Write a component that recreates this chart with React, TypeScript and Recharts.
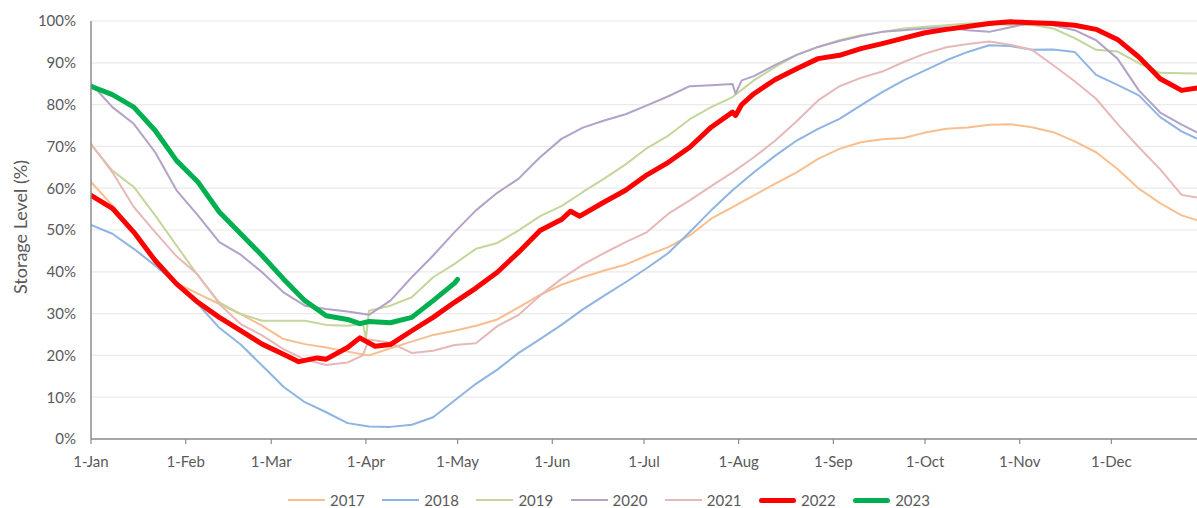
import React from 'react';
import { LineChart, Line, XAxis, YAxis, CartesianGrid } from 'recharts';

const MONTH_TICKS = [0, 31, 59, 90, 120, 151, 181, 212, 243, 273, 304, 334];
const MONTH_LABELS = ['1-Jan', '1-Feb', '1-Mar', '1-Apr', '1-May', '1-Jun', '1-Jul', '1-Aug', '1-Sep', '1-Oct', '1-Nov', '1-Dec'];
const Y_TICKS = [0, 10, 20, 30, 40, 50, 60, 70, 80, 90, 100];

// [day of year, storage %]
const S2017: [number, number][] = [
  [0, 61.5], [7, 55.9], [14, 49.5], [21, 43.1], [28, 37.3], [35, 34.8], [42, 32.3], [49, 29.9], [56, 27.1],
  [63, 23.9], [70, 22.7], [77, 21.9], [84, 20.9], [91, 20.0], [98, 21.7], [105, 23.3], [112, 24.9], [119, 25.9],
  [126, 27.1], [133, 28.6], [140, 31.5], [147, 34.5], [154, 36.9], [161, 38.7], [168, 40.3], [175, 41.7],
  [182, 43.9], [189, 45.9], [196, 48.7], [203, 52.7], [210, 55.5], [217, 58.3], [224, 61.1], [231, 63.8], [238, 67.0],
  [245, 69.4], [252, 71.0], [259, 71.7], [266, 72.0], [273, 73.3], [280, 74.2], [287, 74.5], [294, 75.2], [301, 75.3],
  [308, 74.6], [315, 73.4], [322, 71.2], [329, 68.6], [336, 64.6], [343, 59.9], [350, 56.4], [357, 53.5], [364, 51.9],
];
const S2018: [number, number][] = [
  [0, 51.2], [7, 49.1], [14, 45.5], [21, 41.5], [28, 37.1], [35, 32.3], [42, 26.6], [49, 22.6], [56, 17.6],
  [63, 12.5], [70, 8.8], [77, 6.4], [84, 3.8], [91, 3.0], [98, 2.9], [105, 3.4], [112, 5.2], [119, 9.2],
  [126, 13.2], [133, 16.6], [140, 20.6], [147, 23.9], [154, 27.3], [161, 31.0], [168, 34.3], [175, 37.5],
  [182, 40.9], [189, 44.5], [196, 49.5], [203, 54.7], [210, 59.5], [217, 63.8], [224, 67.8], [231, 71.4], [238, 74.2],
  [245, 76.6], [252, 79.8], [259, 83.0], [266, 85.8], [273, 88.2], [280, 90.6], [287, 92.6], [294, 94.2], [301, 94.0],
  [308, 93.1], [315, 93.2], [322, 92.6], [329, 87.1], [336, 84.7], [343, 82.2], [350, 77.0], [357, 73.6], [364, 71.2],
];
const S2019: [number, number][] = [
  [0, 70.4], [7, 64.2], [14, 60.3], [21, 53.5], [28, 46.3], [35, 39.1], [42, 32.7], [49, 29.9], [56, 28.3],
  [63, 28.3], [70, 28.3], [77, 27.3], [84, 27.1], [89, 27.5], [90, 24.0], [91, 30.7], [98, 31.9], [105, 33.9], [112, 38.7], [119, 41.9],
  [126, 45.5], [133, 46.9], [140, 49.9], [147, 53.3], [154, 55.7], [161, 59.1], [168, 62.3], [175, 65.7],
  [182, 69.6], [189, 72.6], [196, 76.5], [203, 79.4], [210, 81.8], [217, 85.8], [224, 89.0], [231, 91.9], [238, 93.8],
  [245, 95.4], [252, 96.6], [259, 97.4], [266, 98.2], [273, 98.6], [280, 99.0], [287, 99.4], [294, 99.6], [301, 99.0],
  [308, 99.1], [315, 98.2], [322, 95.9], [329, 93.1], [336, 92.7], [343, 89.9], [350, 87.6], [357, 87.5], [364, 87.4],
];
const S2020: [number, number][] = [
  [0, 85.0], [7, 79.4], [14, 75.4], [21, 68.6], [28, 59.5], [35, 53.5], [42, 47.1], [49, 44.1], [56, 39.9],
  [63, 35.1], [70, 31.9], [77, 31.1], [84, 30.5], [91, 29.7], [98, 33.1], [105, 38.7], [112, 43.9], [119, 49.5],
  [126, 54.7], [133, 58.9], [140, 62.3], [147, 67.4], [154, 71.8], [161, 74.5], [168, 76.2], [175, 77.7],
  [182, 79.8], [189, 82.0], [196, 84.4], [203, 84.6], [210, 84.9], [211, 82.6], [213, 85.8], [217, 86.8], [224, 89.5], [231, 91.9], [238, 93.8],
  [245, 95.2], [252, 96.4], [259, 97.4], [266, 97.8], [273, 98.2], [280, 98.5], [287, 97.8], [294, 97.4], [301, 98.5],
  [308, 99.6], [315, 99.0], [322, 97.8], [329, 95.4], [336, 91.0], [343, 83.4], [350, 78.1], [357, 75.2], [364, 72.6],
];
const S2021: [number, number][] = [
  [0, 70.6], [7, 63.8], [14, 55.5], [21, 49.5], [28, 43.7], [35, 39.3], [42, 32.3], [49, 27.5], [56, 24.8],
  [63, 21.5], [70, 19.0], [77, 17.7], [84, 18.3], [89, 20.0], [90, 22.0], [91, 23.8], [98, 23.0], [105, 20.6], [112, 21.1], [119, 22.5],
  [126, 22.9], [133, 27.0], [140, 29.7], [147, 34.3], [154, 38.3], [161, 41.7], [168, 44.5], [175, 47.1],
  [182, 49.5], [189, 53.9], [196, 57.1], [203, 60.5], [210, 63.8], [217, 67.4], [224, 71.4], [231, 76.0], [238, 81.0],
  [245, 84.4], [252, 86.4], [259, 87.9], [266, 90.2], [273, 92.2], [280, 93.7], [287, 94.5], [294, 95.1], [301, 94.3],
  [308, 93.1], [315, 89.4], [322, 85.6], [329, 81.4], [336, 75.4], [343, 69.8], [350, 64.5], [357, 58.4], [364, 57.5],
];
const S2022: [number, number][] = [
  [0, 58.3], [7, 55.2], [14, 49.5], [21, 42.7], [28, 37.1], [35, 32.7], [42, 29.1], [49, 25.9], [56, 22.7],
  [63, 20.3], [68, 18.5], [74, 19.4], [77, 19.1], [84, 21.9], [88, 24.2], [93, 22.2], [98, 22.6], [105, 25.9], [112, 29.1], [119, 32.7],
  [126, 36.1], [133, 39.9], [140, 44.7], [147, 49.9], [154, 52.5], [157, 54.5], [160, 53.3], [168, 56.7], [175, 59.5],
  [182, 63.2], [189, 66.2], [196, 69.8], [203, 74.6], [210, 78.2], [211, 77.4], [213, 80.0], [217, 82.6], [224, 86.0], [231, 88.6], [238, 91.0],
  [245, 91.8], [252, 93.4], [259, 94.6], [266, 95.9], [273, 97.2], [280, 98.0], [287, 98.7], [294, 99.4], [301, 99.8],
  [308, 99.6], [315, 99.4], [322, 99.0], [329, 98.0], [336, 95.6], [343, 91.4], [350, 86.2], [357, 83.4], [364, 84.2],
];
const S2023: [number, number][] = [
  [0, 84.4], [7, 82.4], [14, 79.4], [21, 73.8], [28, 66.6], [35, 61.5], [42, 54.3], [49, 49.1], [56, 43.9],
  [63, 38.3], [70, 33.1], [77, 29.5], [84, 28.6], [88, 27.6], [91, 28.1], [98, 27.8], [105, 29.1], [112, 33.1], [119, 37.3], [120, 38.2],
];

const SERIES = [
  { name: '2017', pts: S2017, color: '#F8BE8E', width: 2 },
  { name: '2018', pts: S2018, color: '#8EB4E3', width: 2 },
  { name: '2019', pts: S2019, color: '#C3D69B', width: 2 },
  { name: '2020', pts: S2020, color: '#B3A2C7', width: 2 },
  { name: '2021', pts: S2021, color: '#E6B9B8', width: 2 },
  { name: '2022', pts: S2022, color: '#FF0000', width: 5 },
  { name: '2023', pts: S2023, color: '#00B050', width: 5 },
];

const FONT = 'Lato, "Open Sans", sans-serif';
const TEXT = '#595959';
const AXIS = '#8C8C8C';

export default function App() {
  return (
    <div style={{ position: 'absolute', left: 0, top: 0, width: 1197, height: 508, overflow: 'hidden', background: '#fff', fontFamily: FONT }}>
      <LineChart width={1210} height={480} margin={{ top: 21, right: 7, bottom: 0, left: 0 }}>
        <CartesianGrid vertical={false} stroke="#EAEAEA" strokeWidth={1.2} />
        <XAxis
          type="number"
          dataKey="day"
          domain={[0, 364]}
          ticks={MONTH_TICKS}
          tickFormatter={(v: number) => MONTH_LABELS[MONTH_TICKS.indexOf(v)] ?? ''}
          height={41}
          tickSize={5}
          tickMargin={12}
          axisLine={{ stroke: AXIS, strokeWidth: 1.5 }}
          tickLine={{ stroke: AXIS, strokeWidth: 1.2 }}
          tick={{ fill: TEXT, fontSize: 15, fontFamily: FONT }}
          allowDataOverflow
        />
        <YAxis
          type="number"
          domain={[0, 100]}
          ticks={Y_TICKS}
          tickFormatter={(v: number) => `${v}%`}
          width={91}
          tickLine={false}
          tickSize={6}
          tickMargin={9}
          axisLine={{ stroke: AXIS, strokeWidth: 1.5 }}
          tick={{ fill: TEXT, fontSize: 15, fontFamily: FONT }}
          interval={0}
        />
        {SERIES.map((s) => (
          <Line
            key={s.name}
            data={s.pts.map(([day, v]) => ({ day, v }))}
            dataKey="v"
            name={s.name}
            type="linear"
            stroke={s.color}
            strokeWidth={s.width}
            strokeLinejoin="round"
            strokeLinecap="round"
            dot={false}
            activeDot={false}
            isAnimationActive={false}
          />
        ))}
      </LineChart>
      <div
        style={{
          position: 'absolute', left: 20, top: 227, transform: 'translate(-50%, -50%) rotate(-90deg)',
          whiteSpace: 'nowrap', fontSize: 18, color: TEXT, fontFamily: FONT,
        }}
      >
        Storage Level (%)
      </div>
      <div style={{ position: 'absolute', left: 288, top: 490, height: 20, display: 'flex', alignItems: 'center' }}>
        {SERIES.map((s) => (
          <div key={s.name} style={{ width: 94.2, display: 'flex', alignItems: 'center' }}>
            <div style={{ width: 37, height: s.width, background: s.color, borderRadius: s.width > 2 ? 3 : 0, marginRight: 5 }} />
            <span style={{ fontSize: 15, color: TEXT, fontFamily: FONT, lineHeight: '20px' }}>{s.name}</span>
          </div>
        ))}
      </div>
    </div>
  );
}
